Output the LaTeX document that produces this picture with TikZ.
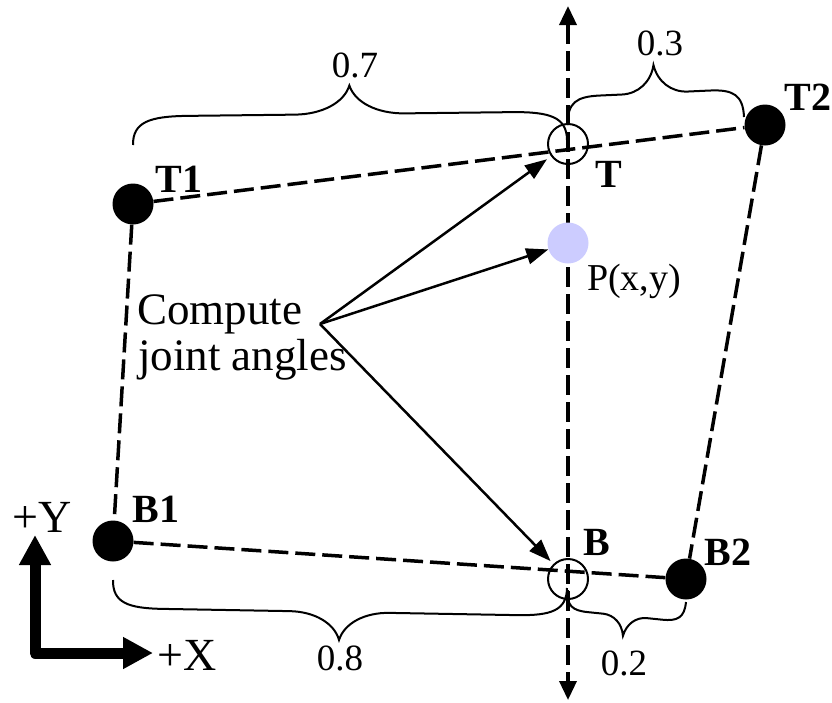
\documentclass[tikz,border=0pt]{standalone}
\usepackage{fontspec}
\setmainfont{Liberation Serif}
\usetikzlibrary{calc, positioning, arrows.meta}

\definecolor{targetblue}{RGB}{204,204,255}

% curly brace from #1 to #2, height #3 (negative = downwards), curl width #4
\newcommand{\wordbrace}[4]{%
  \draw[bracestyle] (#1)
    .. controls ($(#1)!{0.4*#3}!90:(#2)$)
            and ($(#1)!{0.3*#4}!(#2)!{0.5*#3}!90:(#2)$)
    .. ($(#1)!#4!(#2)!{0.5*#3}!90:(#2)$)
    -- ($(#1)!0.5!(#2)!{-1*#4}!(#2)!{0.5*#3}!90:(#2)$)
    .. controls ($(#1)!0.5!(#2)!{-0.5*#4}!(#2)!{0.5*#3}!90:(#2)$)
            and ($(#1)!0.5!(#2)!{-0.1*#4}!(#2)!{0.7*#3}!90:(#2)$)
    .. ($(#1)!0.5!(#2)!#3!90:(#2)$)
    .. controls ($(#1)!0.5!(#2)!{0.1*#4}!(#2)!{0.7*#3}!90:(#2)$)
            and ($(#1)!0.5!(#2)!{0.5*#4}!(#2)!{0.5*#3}!90:(#2)$)
    .. ($(#1)!0.5!(#2)!#4!(#2)!{0.5*#3}!90:(#2)$)
    -- ($(#2)!#4!(#1)!{0.5*#3}!-90:(#1)$)
    .. controls ($(#2)!{0.3*#4}!(#1)!{0.5*#3}!-90:(#1)$)
            and ($(#2)!{0.4*#3}!-90:(#1)$)
    .. (#2);%
}

\begin{document}
\begin{tikzpicture}[
    x=1pt, y=-1pt,
    joint/.style={circle, fill=black, minimum size=41pt, inner sep=0pt},
    openjoint/.style={circle, draw=black, line width=2pt, minimum size=40pt, inner sep=0pt},
    target/.style={circle, fill=targetblue, minimum size=41pt, inner sep=0pt},
    link/.style={line width=3.5pt, dash pattern=on 20pt off 7pt},
    pointer/.style={line width=2.5pt, -{Triangle[length=22pt,width=16pt]}},
    bracestyle/.style={line width=2pt},
    lbl/.style={font=\fontsize{40}{44}\selectfont\bfseries, inner sep=0pt, anchor=base},
    num/.style={font=\fontsize{37}{40}\selectfont, inner sep=0pt, anchor=base},
    note/.style={font=\fontsize{45}{48}\selectfont, inner sep=0pt, anchor=base west}
]
    \useasboundingbox (0,0) rectangle (832,702);

    % 1. Joints and the target point
    \node[joint] (T1) at (133,204) {};
    \node[joint] (T2) at (765,125) {};
    \node[joint] (B1) at (113,541) {};
    \node[joint] (B2) at (686,579) {};
    \node[openjoint] (T) at (568,144) {};
    \node[openjoint] (B) at (568,579) {};

    % 2. Vertical axis through T and B (arrows at both ends)
    \coordinate (top) at (568,6);
    \coordinate (bottom) at (568,700);
    \draw[link, {Triangle[length=19pt,width=17pt]}-{Triangle[length=19pt,width=17pt]}] (top) -- (bottom);

    \node[target] (P) at (568,243) {};

    % 3. Links (dashed)
    \draw[link] (T1) -- (T2);
    \draw[link] (B1) -- (B2);
    \draw[link] (T1) -- (B1);
    \draw[link] (T2) -- (B2);

    % 4. Braces with ratios
    \coordinate (br7a) at (133,145);
    \coordinate (br7b) at (567,140);
    \wordbrace{br7a}{br7b}{57pt}{55pt}
    \coordinate (br3a) at (568,125);
    \coordinate (br3b) at (744,117);
    \wordbrace{br3a}{br3b}{56pt}{33pt}
    \coordinate (br8a) at (113,580);
    \coordinate (br8b) at (567,588);
    \wordbrace{br8a}{br8b}{-56pt}{50pt}
    \coordinate (br2a) at (568,590);
    \coordinate (br2b) at (686,602);
    \wordbrace{br2a}{br2b}{-40pt}{22pt}

    \node[num] (r7) at (355,77) {0.7};
    \node[num] (r3) at (660,55) {0.3};
    \node[num] (r8) at (340,670) {0.8};
    \node[num] (r2) at (624,675) {0.2};

    % 5. "Compute joint angles" and its arrows
    \node[note] (compute) at (137,324) {Compute};
    \node[note] (angles) at (138,370) {joint angles};
    \coordinate (src) at (320,324);
    \draw[pointer, shorten >=5pt] (src) -- (T);
    \draw[pointer] (src) -- (P);
    \draw[pointer, shorten >=4pt] (src) -- (B);

    % 6. Frame +X / +Y
    \coordinate (origin) at (35,653);
    \coordinate (yend) at (35,535);
    \coordinate (xend) at (153,653);
    \draw[line width=11pt, line join=round,
          {Triangle[length=30pt,width=30pt]}-{Triangle[length=30pt,width=30pt]}] (yend) -- (origin) -- (xend);

    % 7. Labels
    \node[lbl] (t1label) at (179,192) {T1};
    \node[lbl] (t2label) at (808,110) {T2};
    \node[lbl] (tlabel) at (609,187) {T};
    \node[lbl] (b1label) at (156,522) {B1};
    \node[lbl] (blabel) at (597,555) {B};
    \node[lbl] (b2label) at (728,565) {B2};
    \node[num, font=\fontsize{38}{42}\selectfont] (plabel) at (634,290) {P(x,y)};
    \node[num, font=\fontsize{46}{50}\selectfont] (ylabel) at (42,532) {+Y};
    \node[num, font=\fontsize{46}{50}\selectfont] (xlabel) at (187,670) {+X};

\end{tikzpicture}
\end{document}
